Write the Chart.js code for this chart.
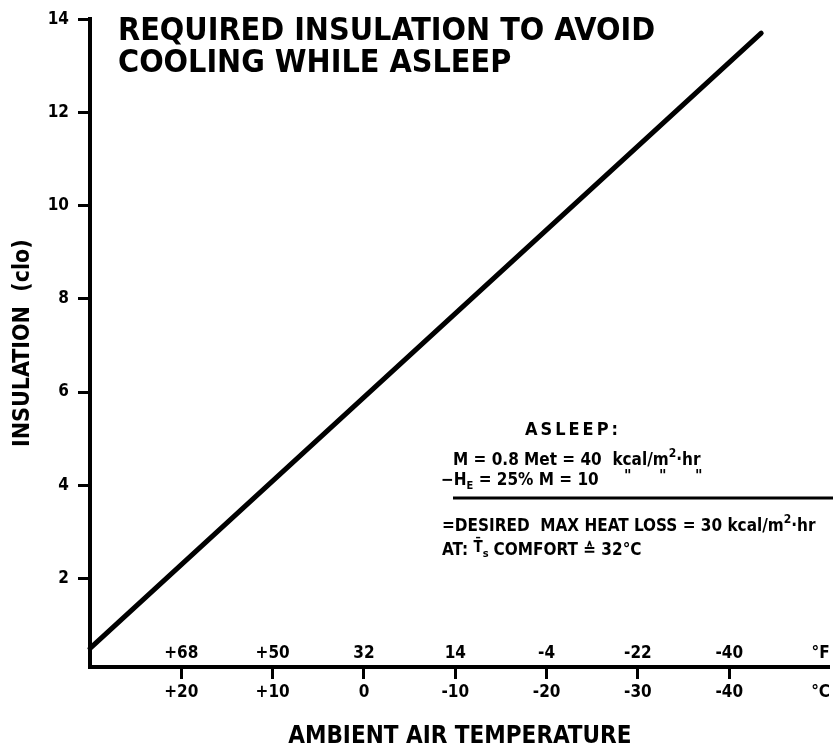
<!DOCTYPE html>
<html>
<head>
<meta charset="utf-8">
<script src="https://cdn.jsdelivr.net/npm/chart.js@4.4.0/dist/chart.umd.min.js"></script>
<style>
  html, body { margin: 0; padding: 0; background: #fff; }
  #wrap { position: relative; width: 833px; height: 749px; }
</style>
</head>
<body>
<div id="wrap"><canvas id="chart"></canvas></div>
<script>
// line: air temperature (°C) vs required insulation (clo)
const tempC = [30, -43.5];
const insulationClo = [0.5, 13.7];

// ticks
const yTicks = [2, 4, 6, 8, 10, 12, 14];
const cTicks = [20, 10, 0, -10, -20, -30, -40];
const cLabels = ['+20', '+10', '0', '-10', '-20', '-30', '-40'];
const fLabels = ['+68', '+50', '32', '14', '-4', '-22', '-40'];
const unitPos = -50; // where the °C / °F marks sit on the axis

const titleLines = ['REQUIRED INSULATION TO AVOID', 'COOLING WHILE ASLEEP'];

const FAMILY = "'DejaVu Sans Condensed', 'Liberation Sans', Arial, sans-serif";
const font = s => 'bold ' + s + 'px ' + FAMILY;

// draws a row of text pieces (normal, sub- or superscript) one after another
function drawRuns(ctx, x, y, runs) {
    runs.forEach(r => {
        ctx.font = font(r.size || 17);
        ctx.fillText(r.t, x, y + (r.dy || 0));
        x += ctx.measureText(r.t).width + (r.gap || 0);
    });
}

const decorations = {
    id: 'decorations',
    afterDraw(chart) {
        const ctx = chart.ctx;
        const xs = chart.scales.x;
        const area = chart.chartArea;
        ctx.save();
        ctx.fillStyle = '#000';
        ctx.strokeStyle = '#000';
        ctx.textBaseline = 'alphabetic';

        // title, inside the plot at top left
        ctx.font = font(32);
        ctx.textAlign = 'left';
        ctx.fillText(titleLines[0], 118, 40);
        ctx.fillText(titleLines[1], 118, 72);

        // °F labels just above the axis
        ctx.font = font(17);
        ctx.textAlign = 'center';
        ctx.textBaseline = 'middle';
        cTicks.forEach((c, i) => {
            ctx.fillText(fLabels[i], xs.getPixelForValue(c), area.bottom - 13);
        });
        ctx.fillText('°F', xs.getPixelForValue(unitPos), area.bottom - 13);

        // condition box
        ctx.textAlign = 'left';
        ctx.textBaseline = 'alphabetic';
        ctx.font = font(18);
        if ('letterSpacing' in ctx) ctx.letterSpacing = '3px';
        ctx.fillText('ASLEEP:', 525, 435);
        if ('letterSpacing' in ctx) ctx.letterSpacing = '0px';

        drawRuns(ctx, 453, 465, [
            { t: 'M = 0.8 Met = 40  kcal/m' },
            { t: '2', size: 12, dy: -8 },
            { t: '·hr' }
        ]);
        drawRuns(ctx, 441, 485, [
            { t: '−H' },
            { t: 'E', size: 11, dy: 4 },
            { t: ' = 25% M = 10' }
        ]);
        ctx.font = font(16);
        ['"', '"', '"'].forEach((d, i) => ctx.fillText(d, [624, 659, 695][i], 481));

        ctx.lineWidth = 3;
        ctx.beginPath();
        ctx.moveTo(453, 498);
        ctx.lineTo(833, 498);
        ctx.stroke();

        drawRuns(ctx, 442, 531, [
            { t: '=DESIRED  MAX HEAT LOSS = 30 kcal/m' },
            { t: '2', size: 12, dy: -8 },
            { t: '·hr' }
        ]);
        drawRuns(ctx, 442, 555, [
            { t: 'AT: ' },
            { t: 'T\u0304', size: 15, dy: -3 },
            { t: 's', size: 11, dy: 2, gap: 5 },
            { t: 'COMFORT ≙ 32°C' }
        ]);
        ctx.restore();
    }
};

new Chart(document.getElementById('chart'), {
    type: 'scatter',
    data: {
        datasets: [{
            data: tempC.map((t, i) => ({ x: t, y: insulationClo[i] })),
            showLine: true,
            borderColor: '#000',
            borderWidth: 5,
            borderCapStyle: 'round',
            pointRadius: 0,
            clip: false
        }]
    },
    options: {
        responsive: true,
        maintainAspectRatio: false,
        animation: false,
        layout: { padding: { top: 14, right: 0, bottom: 0, left: 0 } },
        plugins: {
            legend: { display: false },
            tooltip: { enabled: false }
        },
        scales: {
            x: {
                type: 'linear',
                reverse: true,
                min: -51,
                max: 30,
                afterBuildTicks: s => { s.ticks = cTicks.concat([unitPos]).map(v => ({ value: v })); },
                afterFit: s => { s.height = 82; },
                border: { display: true, color: '#000', width: 4 },
                grid: {
                    drawOnChartArea: false,
                    drawTicks: true,
                    tickLength: 12,
                    tickWidth: 3,
                    tickColor: c => (c.tick && c.tick.value === unitPos ? 'rgba(0,0,0,0)' : '#000')
                },
                ticks: {
                    color: '#000',
                    padding: 3,
                    maxRotation: 0,
                    autoSkip: false,
                    font: { family: FAMILY, size: 17, weight: 'bold' },
                    callback: v => (v === unitPos ? '°C' : cLabels[cTicks.indexOf(v)])
                },
                title: {
                    display: true,
                    text: 'AMBIENT AIR TEMPERATURE',
                    color: '#000',
                    padding: { top: 0, bottom: 0 },
                    font: { family: FAMILY, size: 24, weight: 'bold', lineHeight: 1 }
                }
            },
            y: {
                type: 'linear',
                min: 0.1,
                max: 14,
                afterBuildTicks: s => { s.ticks = yTicks.map(v => ({ value: v })); },
                afterFit: s => { s.width = 90; },
                border: { display: true, color: '#000', width: 4 },
                grid: {
                    drawOnChartArea: false,
                    drawTicks: true,
                    tickLength: 12,
                    tickWidth: 3,
                    tickColor: '#000'
                },
                ticks: {
                    color: '#000',
                    padding: 9,
                    font: { family: FAMILY, size: 17, weight: 'bold' }
                },
                title: {
                    display: true,
                    text: 'INSULATION  (clo)',
                    color: '#000',
                    padding: { top: 9, bottom: 0 },
                    font: { family: FAMILY, size: 23, weight: 'bold' }
                }
            }
        }
    },
    plugins: [decorations]
});
</script>
</body>
</html>
